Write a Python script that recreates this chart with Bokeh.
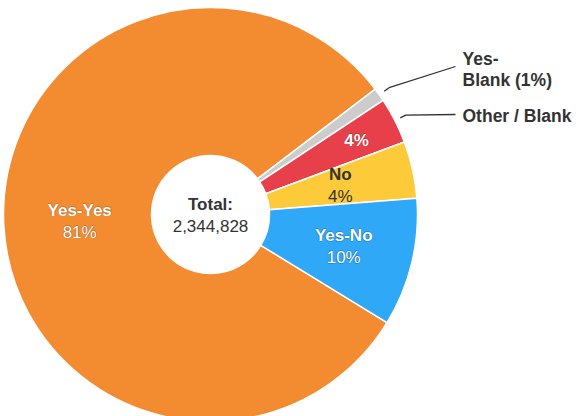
import numpy as np
from bokeh.plotting import figure
from bokeh.models import ColumnDataSource, Range1d
from bokeh.core.properties import value
from bokeh.embed import file_html
from bokeh.resources import INLINE

# ---- data ----
categories = ["Yes-Yes", "Yes-Blank", "Other / Blank", "No", "Yes-No"]
shares = [80.9, 1.05, 3.6, 4.45, 10.0]
colors = ["#F38B31", "#CCCCCC", "#E8404A", "#FDCB3A", "#2EA8F7"]
total_title = "Total:"
total_value = "2,344,828"

# ---- layout ----
W, H = 576, 416
cx, cy = 210, 202
r_out, r_in = 207, 59
start_deg = -31.5
FONT = "Liberation Sans"
FS = "17px"

fracs = np.array(shares) / sum(shares)
ends = np.radians(start_deg) - 2 * np.pi * np.cumsum(fracs)
starts = ends + 2 * np.pi * fracs
mids = (starts + ends) / 2
pcts = ["%d%%" % round(s) for s in shares]

p = figure(width=W, height=H, x_range=Range1d(0, W), y_range=Range1d(0, H),
           x_axis_type=None, y_axis_type=None, toolbar_location=None,
           output_backend="svg", min_border=0)
p.grid.visible = False
p.outline_line_color = None
p.background_fill_color = "white"
p.border_fill_color = "white"

src = ColumnDataSource(dict(start=starts, end=ends, color=colors, name=categories))
p.annular_wedge(x=cx, y=cy, inner_radius=r_in, outer_radius=r_out,
                start_angle="start", end_angle="end", direction="clock",
                fill_color="color", line_color="white", line_width=1.5, source=src)

# ---- inside labels ----
inside = {0: 131, 3: 133, 4: 137}   # two-line labels (name + pct)
single = {2: 164}                   # pct only
light = {0: True, 3: False, 4: True, 2: True}

def put(x, y, t, color, bold, halo):
    style = "bold" if bold else "normal"
    if halo:
        for dx, dy in [(1, 0), (-1, 0), (0, 1), (0, -1)]:
            p.text(x=[x + dx * 0.8], y=[y + dy * 0.8], text=[t], text_color="black",
                   text_alpha=0.18, text_align="center", text_baseline="middle",
                   text_font=value(FONT), text_font_size=FS, text_font_style=style)
    p.text(x=[x], y=[y], text=[t], text_color=color, text_align="center",
           text_baseline="middle", text_font=value(FONT), text_font_size=FS,
           text_font_style=style)

for i, r in inside.items():
    lx = cx + r * np.cos(mids[i])
    ly = cy + r * np.sin(mids[i])
    col = "white" if light[i] else "#333333"
    put(lx, ly + 11, categories[i], col, True, light[i])
    put(lx, ly - 11, pcts[i], col, False, light[i])

for i, r in single.items():
    lx = cx + r * np.cos(mids[i])
    ly = cy + r * np.sin(mids[i])
    put(lx, ly, pcts[i], "white", True, True)

# ---- outside labels with connectors ----
label_x = 462
outside = {1: (350, ["Yes-", "Blank (%s)" % pcts[1]], [358, 337]),
           2: (302, [categories[2]], [301])}
for i, (ty, lines, ys) in outside.items():
    ax = cx + 213 * np.cos(mids[i]); ay = cy + 213 * np.sin(mids[i])
    bx = cx + 219 * np.cos(mids[i]); by = cy + 219 * np.sin(mids[i])
    p.line(x=[ax, bx, label_x - 7], y=[ay, by, ty], line_color="#333333", line_width=1.3)
    for t, yy in zip(lines, ys):
        p.text(x=[label_x], y=[yy], text=[t], text_color="#333333", text_align="left",
               text_baseline="middle", text_font=value(FONT), text_font_size="17.5px",
               text_font_style="bold")

# ---- centre total ----
p.text(x=[cx], y=[cy + 10], text=[total_title], text_color="#333333", text_align="center",
       text_baseline="middle", text_font=value(FONT), text_font_size=FS, text_font_style="bold")
p.text(x=[cx], y=[cy - 11], text=[total_value], text_color="#333333", text_align="center",
       text_baseline="middle", text_font=value(FONT), text_font_size=FS)

open("out.html", "w").write(file_html(p, INLINE))
